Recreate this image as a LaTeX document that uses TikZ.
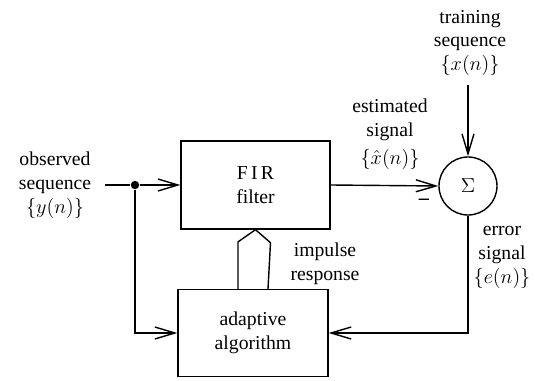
\documentclass[tikz,border=0pt]{standalone}
\usepackage{fontspec}
\setmainfont{Liberation Serif}
\usetikzlibrary{arrows.meta}
\tikzset{
  blk/.style={draw,rectangle,line width=1pt,align=center},
  lbl/.style={align=center,inner sep=0pt},
}
\begin{document}
\begin{tikzpicture}[x=0.025cm,y=-0.025cm,line width=1pt,
  >={Straight Barb[length=5mm,width=3mm]},
  font=\fontsize{14}{17}\selectfont]
  \useasboundingbox (0,0) rectangle (535,381);

  % blocks
  \node[blk,minimum width=3.72cm,minimum height=2.2cm] (fir) at (255.5,185) {F\,I\,R\\filter};
  \node[blk,minimum width=3.75cm,minimum height=2.17cm] (adapt) at (253,333) {adaptive\\algorithm};
  \node[draw,circle,minimum size=1.45cm,inner sep=0pt] (sum) at (468,186) {$\Sigma$};

  % junction and free ends
  \coordinate (in) at (105,185);
  \node[fill,circle,inner sep=0pt,minimum size=6pt] (dot) at (135,185) {};
  \coordinate (tr) at (468,85);

  % connectors
  \draw (in) -- (dot);
  \draw[->] (dot) -- (fir.west);
  \draw[->] (dot) |- (adapt.west);
  \draw[->] (fir.east) -- (sum.west);
  \draw[->] (tr) -- (sum.north);
  \draw[->] (sum.south) |- (adapt.east);

  % hollow arrow: impulse response
  \draw ([xshift=-0.375cm]adapt.north) -- ++(0,-47) -- (fir.south)
        -- ++(15,13) -- ([xshift=0.375cm]adapt.north);

  % labels
  \node[lbl] (est) at (390,134) {estimated\\signal\\[3pt]$\{\hat{x}(n)\}$};
  \node[lbl] (obs) at (55,185) {observed\\sequence\\$\{y(n)\}$};
  \node[lbl] (train) at (470,43) {training\\sequence\\$\{x(n)\}$};
  \node[lbl] (imp) at (325,264) {impulse\\response};
  \node[lbl] (err) at (502,257) {error\\signal\\$\{e(n)\}$};
  \node[lbl,font=\Large\bfseries] (minus) at (424,202) {--};
\end{tikzpicture}
\end{document}
